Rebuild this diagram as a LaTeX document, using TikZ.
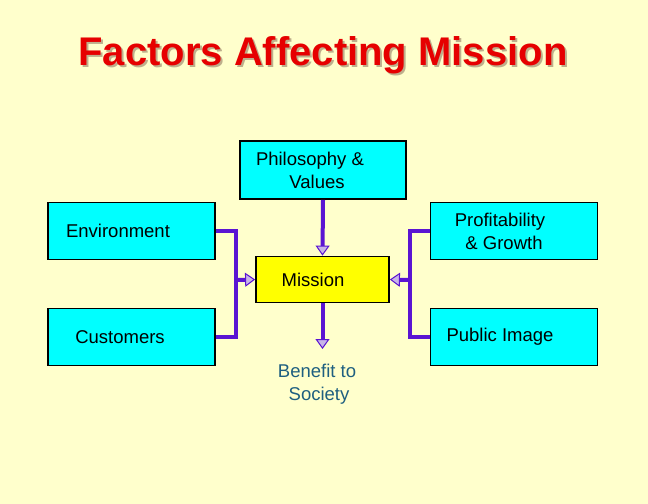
\documentclass[tikz,border=0pt]{standalone}
\usepackage{fontspec}
\setmainfont{Liberation Sans}
\usetikzlibrary{arrows.meta}
\definecolor{bg}{RGB}{255,255,204}
\definecolor{boxcyan}{RGB}{0,255,255}
\definecolor{boxyellow}{RGB}{255,255,0}
\definecolor{linepurple}{RGB}{90,20,210}
\definecolor{tipfill}{RGB}{200,180,232}
\definecolor{titlered}{RGB}{230,0,0}
\definecolor{shadowtan}{RGB}{190,175,140}
\definecolor{teal}{RGB}{30,95,128}
\tikzset{
  box/.style={draw=black, line width=1.8bp, minimum width=#1, inner sep=0pt},
  cbox/.style={box=167bp, fill=boxcyan, minimum height=57bp},
  lbl/.style={font=\fontsize{18.5bp}{23bp}\selectfont, align=center, inner sep=0pt},
  conn/.style={draw=linepurple, line width=4bp},
  tip/.style={conn, -{Triangle[length=10bp,width=14bp,fill=tipfill,line width=1bp]}},
  titlefont/.style={font=\fontsize{40bp}{44bp}\selectfont\bfseries, inner sep=0pt}
}
\begin{document}
\begin{tikzpicture}[x=1bp,y=-1bp]
\fill[bg] (0,0) rectangle (648,504);
\useasboundingbox (0,0) rectangle (648,504);
% title
\node[titlefont, text=shadowtan] (titleshadow) at (325,57) {Factors Affecting Mission};
\node[titlefont, text=titlered] (title) at (323,55) {Factors Affecting Mission};
% boxes
\node[box=166bp, fill=boxcyan, minimum height=58bp] (phil) at (323,170) {};
\node[cbox] (env) at (131.5,231) {};
\node[cbox] (prof) at (514,231) {};
\node[box=133bp, fill=boxyellow, minimum height=46bp] (mission) at (322.5,279.5) {};
\node[cbox] (cust) at (131.5,337) {};
\node[cbox] (pub) at (514,337) {};
% labels
\node[lbl] (philtext) at (310,170) {Philosophy \&\\\hspace*{14bp}Values};
\node[lbl] (envtext) at (118,231) {Environment};
\node[lbl] (proftext) at (500,231) {Profitability\\\hspace*{8bp}\& Growth};
\node[lbl] (misstext) at (313,280) {Mission};
\node[lbl] (custtext) at (120,337) {Customers};
\node[lbl] (pubtext) at (500,337) {Public Image};
\node[lbl, text=teal] (benefit) at (317,384) {Benefit to\\\hspace*{4bp}Society};
% connectors
\coordinate (lx) at (236,280);
\coordinate (rx) at (410,280);
\coordinate (btip) at (322.5,349);
\draw[conn] (env.east) -| (lx) |- (cust.east);
\draw[conn] (prof.west) -| (rx) |- (pub.west);
\draw[tip] (lx) -- (mission.west);
\draw[tip] (rx) -- (mission.east);
\draw[tip] (phil.south) -- (mission.north);
\draw[tip] (mission.south) -- (btip);
\end{tikzpicture}
\end{document}
